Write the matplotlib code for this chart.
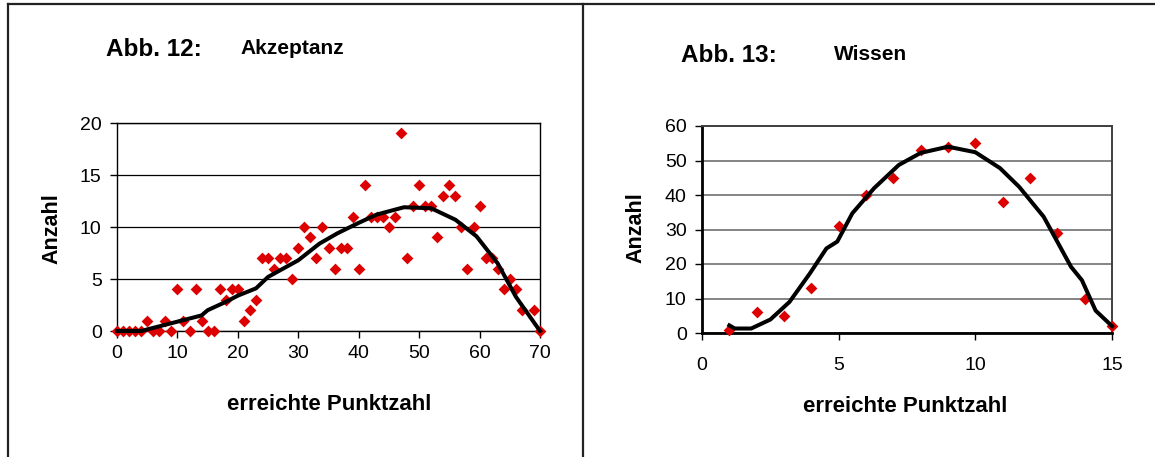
import matplotlib
matplotlib.use("Agg")
import matplotlib.pyplot as plt
from matplotlib.lines import Line2D

plt.rcParams['font.family'] = ['Liberation Sans', 'DejaVu Sans']

# Abb. 12: Akzeptanz
akz_x = [0, 1, 2, 3, 4, 5, 6, 7, 8, 9, 10, 11, 12, 13, 14, 15, 16, 17, 18, 19,
         20, 21, 22, 23, 24, 25, 26, 27, 28, 29, 30, 31, 32, 33, 34, 35, 36, 37, 38, 39,
         40, 41, 42, 43, 44, 45, 46, 47, 48, 49, 50, 51, 52, 53, 54, 55, 56, 57, 58, 59,
         60, 61, 62, 63, 64, 65, 66, 67, 69, 70]
akz_y = [0, 0, 0, 0, 0, 1, 0, 0, 1, 0, 4, 1, 0, 4, 1, 0, 0, 4, 3, 4,
         4, 1, 2, 3, 7, 7, 6, 7, 7, 5, 8, 10, 9, 7, 10, 8, 6, 8, 8, 11,
         6, 14, 11, 11, 11, 10, 11, 19, 7, 12, 14, 12, 12, 9, 13, 14, 13, 10, 6, 10,
         12, 7, 7, 6, 4, 5, 4, 2, 2, 0]
akz_trend_x = [0, 4, 10, 14, 15, 18, 20, 23, 25, 30, 33.5, 36.5, 40, 43, 47.5, 52, 56, 59.5, 63, 66, 70]
akz_trend_y = [0, 0, 0.9, 1.5, 2.0, 2.8, 3.4, 4.1, 5.2, 6.8, 8.4, 9.4, 10.4, 11.2, 11.9, 11.8, 10.7, 9.1, 6.5, 3.3, 0]

# Abb. 13: Wissen
wis_x = [1, 2, 3, 4, 5, 6, 7, 8, 9, 10, 11, 12, 13, 14, 15]
wis_y = [1, 6, 5, 13, 31, 40, 45, 53, 54, 55, 38, 45, 29, 10, 2]
wis_trend_x = [1, 1.2, 1.8, 2.5, 3.2, 3.95, 4.55, 4.95, 5.5, 6.3, 7.2, 8, 9, 10, 10.9, 11.6, 12.5, 13.5, 13.9, 14.4, 15]
wis_trend_y = [2.2, 1.3, 1.3, 3.9, 9, 17.3, 24.5, 26.5, 34.7, 42, 48.7, 52.2, 54, 52.4, 47.8, 42.4, 33.7, 19.2, 15.3, 6.5, 2]

W, H = 1155, 457
fig = plt.figure(figsize=(W / 100, H / 100), dpi=100)


def box(x0, y0, x1, y1):
    return [x0 / W, 1 - y1 / H, (x1 - x0) / W, (y1 - y0) / H]


def ftext(x, y, s, **kw):
    fig.text(x / W, 1 - y / H, s, ha='center', va='center', **kw)


# panel frame
for xs, ys in [([8, W], [4, 4]), ([8, 8], [4, H]), ([583, 583], [4, H])]:
    fig.add_artist(Line2D([x / W for x in xs], [1 - y / H for y in ys], color='#222222', lw=1.6))

red = '#dd0000'

# left chart
ax1 = fig.add_axes(box(117, 123, 540, 331))
ax1.scatter(akz_x, akz_y, marker='D', s=36, color=red, zorder=3, clip_on=False, linewidths=0)
ax1.plot(akz_trend_x, akz_trend_y, color='black', lw=2.9, zorder=4, clip_on=False)
ax1.set_xlim(0, 70)
ax1.set_ylim(0, 20)
ax1.set_xticks(range(0, 71, 10))
ax1.set_yticks(range(0, 21, 5))
ax1.yaxis.grid(True, color='black', lw=0.9)
ax1.set_axisbelow(True)
for s in ax1.spines.values():
    s.set_color('black')
    s.set_linewidth(1.0)
ax1.tick_params(axis='both', direction='out', length=5, width=1, labelsize=14)
ax1.tick_params(axis='y', pad=6)
ax1.tick_params(axis='x', pad=5)

# right chart
ax2 = fig.add_axes(box(702, 126, 1112, 333))
ax2.scatter(wis_x, wis_y, marker='D', s=36, color=red, zorder=3, clip_on=False, linewidths=0)
ax2.plot(wis_trend_x, wis_trend_y, color='black', lw=2.9, zorder=4, clip_on=False)
ax2.set_xlim(0, 15)
ax2.set_ylim(0, 60)
ax2.set_xticks(range(0, 16, 5))
ax2.set_yticks(range(0, 61, 10))
ax2.yaxis.grid(True, color='#707070', lw=1.2)
ax2.set_axisbelow(True)
for k in ['top', 'right']:
    ax2.spines[k].set_color('#404040')
    ax2.spines[k].set_linewidth(1.4)
for k in ['left', 'bottom']:
    ax2.spines[k].set_color('black')
    ax2.spines[k].set_linewidth(2.0)
ax2.tick_params(axis='both', direction='out', length=5, width=1, labelsize=14)
ax2.tick_params(axis='y', pad=6)
ax2.tick_params(axis='x', pad=12)

# titles and labels
ftext(154, 50, 'Abb. 12:', fontsize=17.5, fontweight='bold')
ftext(292, 48, 'Akzeptanz', fontsize=15, fontweight='bold')
ftext(729, 56, 'Abb. 13:', fontsize=17.5, fontweight='bold')
ftext(871, 54, 'Wissen', fontsize=15, fontweight='bold')
ftext(52, 229, 'Anzahl', fontsize=15.5, fontweight='bold', rotation=90)
ftext(636, 228, 'Anzahl', fontsize=15.5, fontweight='bold', rotation=90)
ftext(329, 404, 'erreichte Punktzahl', fontsize=16, fontweight='bold')
ftext(905, 407, 'erreichte Punktzahl', fontsize=16, fontweight='bold')

fig.savefig('out.png', dpi=100)
